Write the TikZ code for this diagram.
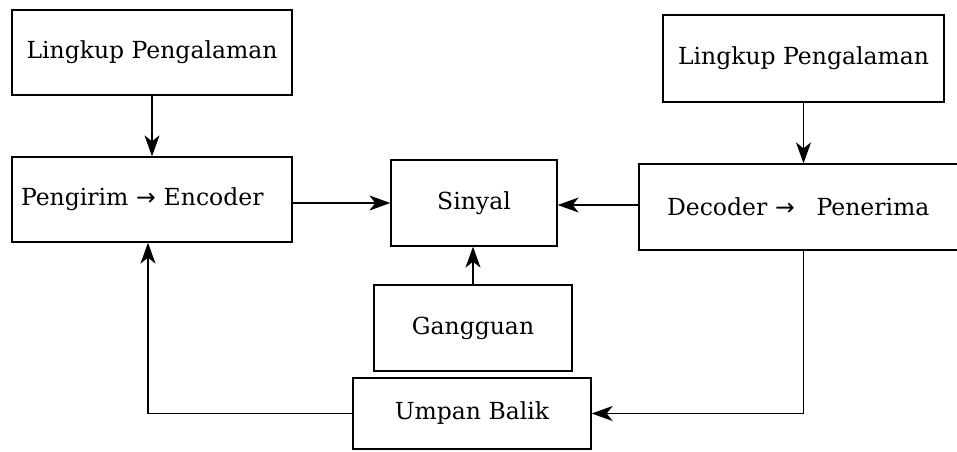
\documentclass[tikz,border=0pt]{standalone}
\usepackage{fontspec}
\setmainfont{DejaVu Serif}
\newfontfamily\arrfont{DejaVu Sans}
\usetikzlibrary{arrows.meta}
\tikzset{
  blok/.style={draw, line width=1.3pt, inner sep=0pt, font=\fontsize{23.5}{27}\selectfont},
  arr/.style={-{Stealth[length=21pt,width=15pt,inset=6pt]}, line width=1.3pt},
}
\newcommand{\ke}{{\arrfont →}}

\begin{document}
\begin{tikzpicture}[x=1pt,y=-1pt]
  \useasboundingbox (0,0) rectangle (957,451);
  % sender side
  \node[blok, minimum width=280pt, minimum height=85pt] (lingA) at (152,52.5) {Lingkup Pengalaman};
  \node[blok, minimum height=85pt, inner xsep=9pt, text width=262pt, align=left] (kirim) at (152,199.5) {Pengirim \ke{} Encoder};
  % channel
  \node[blok, minimum width=166pt, minimum height=86pt] (sinyal) at (474,203) {Sinyal};
  \node[blok, minimum width=198pt, minimum height=86pt] (gangguan) at (473,328) {Gangguan};
  \node[blok, minimum width=238pt, minimum height=71pt] (umpan) at (472,413.5) {Umpan Balik};
  % receiver side
  \node[blok, minimum width=281pt, minimum height=87pt] (lingB) at (803.5,58.5) {Lingkup Pengalaman};
  \node[blok, minimum height=86pt, inner xsep=28pt, text width=265pt, align=left] (terima) at (799.5,207) {Decoder \ke\hspace{14pt} Penerima};
  % connectors
  \draw[arr] (lingA.south) -- (kirim.north);
  \draw[arr] (kirim.east |- sinyal.west) -- (sinyal.west);
  \draw[arr] (terima.west |- 0,205) -- (sinyal.east |- 0,205);
  \draw[arr] (lingB.south) -- (lingB.south |- terima.north);
  \draw[arr] (gangguan.north) -- (gangguan.north |- sinyal.south);
  \draw[arr] (lingB.south |- terima.south) |- (umpan.east);
  \draw[arr] (umpan.west) -| ([xshift=-4pt]kirim.south);
\end{tikzpicture}
\end{document}
